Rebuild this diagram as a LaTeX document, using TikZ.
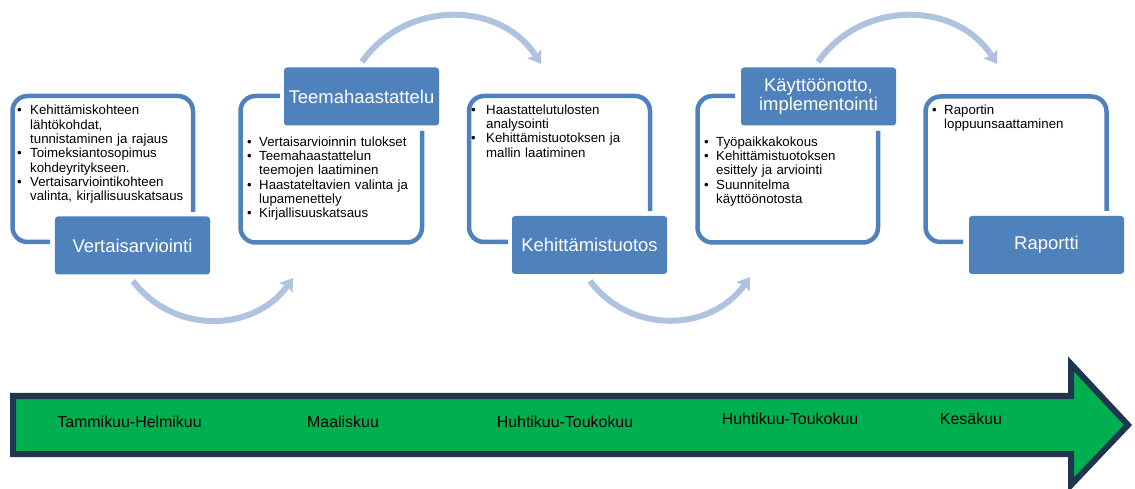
\documentclass[tikz,border=0pt]{standalone}
\usepackage{fontspec}
\setmainfont{Liberation Sans}
\usetikzlibrary{arrows.meta}
\definecolor{boxblue}{HTML}{4F81BD}
\definecolor{bendblue}{HTML}{AFC2E0}
\definecolor{bargreen}{HTML}{00B050}
\definecolor{barnavy}{HTML}{1F3550}
\newcommand\bitem[2]{\par\hangindent=#1bp\hangafter=1\noindent\makebox[#1bp][l]{\textbullet}#2\par}
\tikzset{
  panelframe/.style={draw=boxblue, line width=4.5bp, rounded corners=15bp},
  stagebox/.style={fill=boxblue, rounded corners=3bp, text=white, minimum width=155bp, minimum height=58bp,
    font=\fontsize{18.5}{19}\selectfont, align=center, inner sep=0},
  bullets/.style={anchor=north west, inner sep=0, text width=200bp, align=left,
    font=\fontsize{13.3}{14.35}\selectfont},
  bendarrow/.style={draw=bendblue, line width=6bp, -{Stealth[length=12bp,width=16bp,inset=2bp]}},
  month/.style={font=\fontsize{16}{18}\selectfont, inner sep=0, anchor=base}
}
\begin{document}
\begin{tikzpicture}[x=1bp,y=-1bp]
\useasboundingbox (0,0) rectangle (1135,489);
% big timeline arrow
\draw[barnavy, fill=bargreen, line width=6bp, line join=miter]
  (13,396) -- (1071,396) -- (1071,364) -- (1128,425) -- (1071,485) -- (1071,454) -- (13,454) -- cycle;
\node[month] (m1) at (129.5,427.3) {Tammikuu-Helmikuu};
\node[month] (m2) at (343,427.3) {Maaliskuu};
\node[month] (m3) at (565,427.3) {Huhtikuu-Toukokuu};
\node[month] (m4) at (790,424.3) {Huhtikuu-Toukokuu};
\node[month] (m5) at (971,424.3) {Kesäkuu};
% bending arrows
\coordinate (a1s) at (133,281); \coordinate (a1e) at (293,278);
\coordinate (a2s) at (362,62);  \coordinate (a2e) at (541,64);
\coordinate (a3s) at (590,281); \coordinate (a3e) at (750,277);
\coordinate (a4s) at (818,62);  \coordinate (a4e) at (997,64);
\draw[bendarrow] (a1s) .. controls (173.6,334.9) and (254,332.4) .. (a1e);
\draw[bendarrow] (a2s) .. controls (405,0) and (500,0) .. (a2e);
\draw[bendarrow] (a3s) .. controls (630.6,334.9) and (711,332) .. (a3e);
\draw[bendarrow] (a4s) .. controls (861,0) and (956,0) .. (a4e);
% frames
\draw[panelframe] (193,212) -- (193,96) -- (12.5,96) -- (12.5,242) -- (50,242);
\draw[panelframe] (280,96) -- (240.5,96) -- (240.5,242.5) -- (422,242.5) -- (422,131);
\draw[panelframe] (650,211) -- (650,96) -- (469,96) -- (469,242) -- (508,242);
\draw[panelframe] (735,96) -- (697.5,96) -- (697.5,242.5) -- (878,242.5) -- (878,131);
\draw[panelframe] (1106.5,211) -- (1106.5,96.5) -- (925.5,96.5) -- (925.5,242) -- (963,242);
% stage boxes
\node[stagebox] (s1) at (132.5,245.5) {Vertaisarviointi};
\node[stagebox] (s2) at (361.5,96.5) {Teemahaastattelu};
\node[stagebox] (s3) at (589.5,245) {Kehittämistuotos};
\node[stagebox] (s4) at (818.5,96.5) {Käyttöönotto,\\implementointi};
\node[stagebox] (s5) at (1046.5,245) {Raportti};
% bullet texts
\node[bullets] (t1) at (17,100.5) {%
  \bitem{13}{Kehittämiskohteen\newline lähtökohdat,\newline tunnistaminen ja rajaus}%
  \bitem{13}{Toimeksiantosopimus\newline kohdeyritykseen.}%
  \bitem{13}{Vertaisarviointikohteen\newline valinta, kirjallisuuskatsaus}};
\node[bullets] (t2) at (247,131.7) {%
  \bitem{12}{Vertaisarvioinnin tulokset}%
  \bitem{12}{Teemahaastattelun\newline teemojen laatiminen}%
  \bitem{12}{Haastateltavien valinta ja\newline lupamenettely}%
  \bitem{12}{Kirjallisuuskatsaus}};
\node[bullets] (t3) at (471,99.7) {%
  \bitem{15}{Haastattelutulosten\newline analysointi}%
  \bitem{15}{Kehittämistuotoksen ja\newline mallin laatiminen}};
\node[bullets] (t4) at (704,131.7) {%
  \bitem{12}{Työpaikkakokous}%
  \bitem{12}{Kehittämistuotoksen\newline esittely ja arviointi}%
  \bitem{12}{Suunnitelma\newline käyttöönotosta}};
\node[bullets] (t5) at (932,99.7) {%
  \bitem{12}{Raportin\newline loppuunsaattaminen}};
\end{tikzpicture}
\end{document}
